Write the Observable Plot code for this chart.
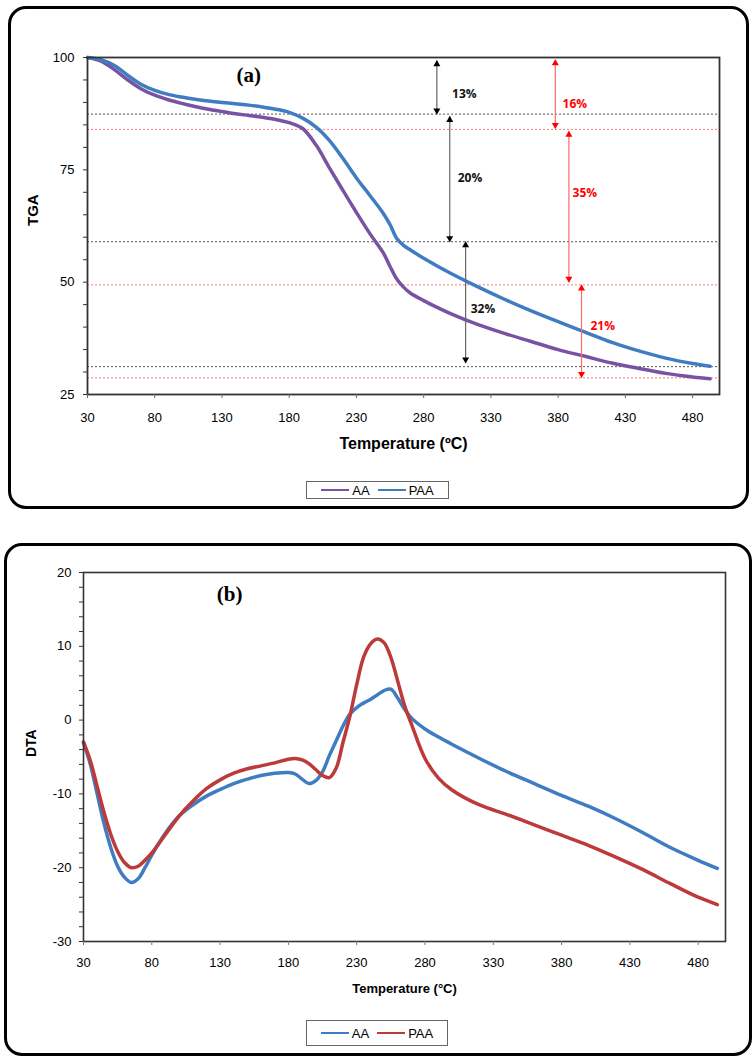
<!DOCTYPE html>
<html>
<head>
<meta charset="utf-8">
<script src="https://cdn.jsdelivr.net/npm/d3@7"></script>
<script src="https://cdn.jsdelivr.net/npm/@observablehq/plot@0.6"></script>
<style>
  html, body { margin: 0; padding: 0; background: #fff; }
  body { width: 756px; height: 1060px; position: relative; overflow: hidden; }
  .panel { position: absolute; box-sizing: border-box; border: 3.5px solid #000; border-radius: 18px; }
  .chart { position: absolute; left: 0; }
  .legend { position: absolute; box-sizing: border-box; border: 1px solid #666; background: #fff;
            display: flex; align-items: center; justify-content: center; gap: 8px; color: #000; }
  .legend .item { display: flex; align-items: center; gap: 3px; }
  .legend .sw { display: inline-block; width: 28px; height: 0; border-top: 2px solid; }
</style>
</head>
<body>
<div class="panel" style="left:8px; top:6px; width:741px; height:503px;"></div>
<div class="panel" style="left:4px; top:543px; width:748px; height:513px;"></div>
<div id="chartA" class="chart" style="top:0px;"></div>
<div id="chartB" class="chart" style="top:520px;"></div>
<div id="legendA" class="legend" style="left:306px; top:481px; width:143px; height:18px; font: 13px 'Liberation Sans Narrow','Liberation Sans',Arial,sans-serif;"></div>
<div id="legendB" class="legend" style="left:306px; top:1020px; width:142px; height:26px; font: 13px 'Liberation Sans',Arial,sans-serif;"></div>
<script>
// ---------- (a) TGA data ----------
const tgaT   = [30, 40, 50, 60, 70, 80, 90, 100, 110, 120, 130, 140, 150, 160, 170, 180, 190, 200, 210, 220, 230, 240, 250, 255, 260, 265, 270, 280, 290, 300, 320, 340, 360, 380, 400, 420, 440, 460, 480, 493];
const tgaAA  = [100, 99.2, 97.3, 95.0, 93.0, 91.6, 90.6, 89.8, 89.1, 88.5, 88.0, 87.5, 87.1, 86.7, 86.2, 85.5, 84.2, 80.5, 75.4, 70.4, 65.5, 60.8, 56.5, 53.5, 50.7, 48.9, 47.6, 45.9, 44.4, 43.0, 40.6, 38.6, 36.8, 35.0, 33.5, 32.0, 30.8, 29.7, 28.9, 28.5];
const tgaPAA = [100, 99.5, 98.2, 96.0, 94.0, 92.7, 91.8, 91.2, 90.7, 90.3, 90.0, 89.7, 89.4, 89.0, 88.5, 87.8, 86.5, 84.5, 81.5, 77.5, 73.2, 69.3, 65.3, 62.8, 59.7, 58.2, 57.2, 55.3, 53.6, 52.0, 49.0, 46.2, 43.6, 41.2, 38.9, 36.6, 34.7, 33.1, 31.9, 31.3];
const tgaXTicks = [30, 80, 130, 180, 230, 280, 330, 380, 430, 480];
const tgaYTicks = [25, 50, 75, 100];
const tgaYMinor = [30, 35, 40, 45, 55, 60, 65, 70, 80, 85, 90, 95];

// dotted reference levels
const levelsBlack = [87.4, 59.0, 31.2];
const levelsRed   = [84.0, 49.4, 28.7];

// double-headed arrows (x = temperature, top / bottom in TGA %)
const arrowX      = [289.8, 299.4, 311.2, 377.9, 388.0, 397.4];
const arrowTop    = [99.3, 86.9, 59.0, 99.5, 83.6, 49.4];
const arrowBottom = [87.4, 59.0, 32.0, 84.2, 50.0, 28.8];
const arrowColor  = ["#000", "#000", "#000", "#ff0000", "#ff0000", "#ff0000"];
const arrowLine   = ["#666", "#666", "#666", "#ff6b6b", "#ff6b6b", "#ff6b6b"];
const pctLabel    = ["13%", "20%", "32%", "16%", "35%", "21%"];
const pctX        = [301.1, 305.3, 315.0, 383.3, 390.7, 404.0];
const pctY        = [91.9, 73.2, 43.9, 89.6, 69.8, 40.3];

// ---------- (b) DTA data ----------
const dtaT   = [30, 35, 40, 45, 50, 55, 60, 65, 70, 75, 80, 90, 100, 110, 120, 130, 140, 150, 160, 170, 180, 185, 190, 195, 200, 205, 210, 215, 220, 225, 230, 235, 240, 245, 250, 255, 260, 265, 270, 280, 290, 300, 320, 340, 360, 380, 400, 420, 440, 460, 480, 494];
const dtaAA  = [-3, -6, -10, -14, -17.3, -19.8, -21.3, -22, -21.5, -20, -18.3, -15.3, -13, -11.5, -10.3, -9.4, -8.6, -8.0, -7.5, -7.2, -7.1, -7.3, -8.0, -8.6, -8.2, -7.0, -4.8, -2.8, -0.8, 0.8, 1.7, 2.3, 2.8, 3.4, 4.0, 4.2, 3.0, 1.5, 0.3, -1.2, -2.3, -3.3, -5.2, -7.0, -8.6, -10.2, -11.7, -13.4, -15.3, -17.3, -19.0, -20.1];
const dtaPAA = [-3, -5.5, -9, -12.5, -15.5, -17.8, -19.3, -20, -19.8, -19, -18, -15.5, -13, -11, -9.3, -8.1, -7.2, -6.6, -6.2, -5.8, -5.3, -5.2, -5.4, -5.9, -6.7, -7.5, -7.8, -6.5, -3.0, 0.5, 4.8, 8.5, 10.3, 11.0, 10.5, 8.5, 5.3, 2.0, -0.5, -5.2, -7.9, -9.5, -11.5, -12.8, -14.2, -15.6, -17.0, -18.6, -20.3, -22.2, -24.0, -25.0];
const dtaXTicks = [30, 80, 130, 180, 230, 280, 330, 380, 430, 480];
const dtaYTicks = [-30, -20, -10, 0, 10, 20];
const dtaYMinor = [-28, -26, -24, -22, -18, -16, -14, -12, -8, -6, -4, -2, 2, 4, 6, 8, 12, 14, 16, 18];

// panel tags
const tagA = {t: 150, v: 96.0, text: "(a)"};
const tagB = {t: 137, v: 17.0, text: "(b)"};

// colours
const cPurple = "#7953a3";
const cBlue   = "#3f7cc2";
const cRed    = "#bd3a3a";

const narrow = "'Liberation Sans Narrow','Liberation Sans',Arial,sans-serif";
const sans   = "'Liberation Sans',Arial,sans-serif";
const calib  = "'Open Sans','Liberation Sans',sans-serif";
const plain  = d => String(d);

// ---------- build tables ----------
const rowsA = [
  ...tgaT.map((t, i) => ({t, v: tgaAA[i], s: "AA"})),
  ...tgaT.map((t, i) => ({t, v: tgaPAA[i], s: "PAA"}))
];
const arrows = arrowX.map((x, i) => ({x, top: arrowTop[i], bottom: arrowBottom[i], color: arrowColor[i], line: arrowLine[i]}));
const pcts = pctLabel.map((text, i) => ({text, x: pctX[i], y: pctY[i], color: arrowColor[i] === "#000" ? "#111" : "#ff0000"}));

const rowsB = [
  ...dtaT.map((t, i) => ({t, v: dtaAA[i], s: "AA"})),
  ...dtaT.map((t, i) => ({t, v: dtaPAA[i], s: "PAA"}))
];

const chartA = Plot.plot({
  width: 756, height: 520,
  marginLeft: 87, marginRight: 37, marginTop: 57, marginBottom: 126,
  x: {domain: [30, 500], label: null},
  y: {domain: [25, 100], label: null},
  color: {domain: ["AA", "PAA"], range: [cPurple, cBlue]},
  style: {fontFamily: narrow, fontSize: "13px", background: "transparent", overflow: "visible", color: "#000"},
  marks: [
    Plot.ruleY(levelsBlack, {stroke: "#555", strokeWidth: 1, strokeDasharray: "2,2"}),
    Plot.ruleY(levelsRed, {stroke: "#ff7a7a", strokeWidth: 1, strokeDasharray: "2,2"}),
    Plot.line(rowsA, {x: "t", y: "v", stroke: "s", strokeWidth: 3.5, curve: "catmull-rom"}),
    Plot.link(arrows, {x1: "x", x2: "x", y1: "top", y2: "bottom", stroke: "line", strokeWidth: 1.2}),
    Plot.dot(arrows, {x: "x", y: "top", symbol: "triangle", r: 2.6, fill: "color", stroke: "none", dy: 3.5}),
    Plot.dot(arrows, {x: "x", y: "bottom", symbol: "triangle", r: 2.6, fill: "color", stroke: "none", rotate: 180, dy: -3.5}),
    Plot.text(pcts, {x: "x", y: "y", text: "text", fill: "color", textAnchor: "start", fontWeight: "bold", fontSize: 12, fontFamily: calib}),
    Plot.text([tagA], {x: "t", y: "v", text: "text", fontFamily: "'Liberation Serif',serif", fontWeight: "bold", fontSize: 21, fill: "#000"}),
    Plot.frame({stroke: "#333", strokeWidth: 1.8}),
    Plot.axisX({ticks: tgaXTicks, tickSize: 4, tickPadding: 14, label: null, stroke: "#666", fontSize: 13, tickFormat: plain}),
    Plot.axisY({ticks: tgaYTicks, tickSize: 4, tickPadding: 9, label: null, stroke: "#333", fontSize: 13, tickFormat: plain}),
    Plot.axisY({ticks: tgaYMinor, tickSize: 4, tickFormat: () => "", label: null, stroke: "#333"}),
    Plot.text(["Temperature (\u00baC)"], {frameAnchor: "bottom", dy: 54, text: d => d, fontWeight: "bold", fontSize: 16, fontFamily: narrow, fill: "#000"}),
    Plot.text(["TGA"], {frameAnchor: "left", dx: -54, rotate: -90, text: d => d, fontWeight: "bold", fontSize: 15, fontFamily: sans, fill: "#000"})
  ]
});
document.getElementById("chartA").appendChild(chartA);

const chartB = Plot.plot({
  width: 756, height: 540,
  marginLeft: 83, marginRight: 31, marginTop: 52, marginBottom: 119,
  x: {domain: [30, 500], label: null},
  y: {domain: [-30, 20], label: null},
  color: {domain: ["AA", "PAA"], range: [cBlue, cRed]},
  style: {fontFamily: sans, fontSize: "12px", background: "transparent", overflow: "visible", color: "#000"},
  marks: [
    Plot.line(rowsB, {x: "t", y: "v", stroke: "s", strokeWidth: 3.5, curve: "catmull-rom"}),
    Plot.text([tagB], {x: "t", y: "v", text: "text", fontFamily: "'Liberation Serif',serif", fontWeight: "bold", fontSize: 21, fill: "#000"}),
    Plot.frame({stroke: "#333", strokeWidth: 1.6}),
    Plot.axisX({ticks: dtaXTicks, tickSize: 4, tickPadding: 12, label: null, stroke: "#777", fontSize: 13, tickFormat: plain}),
    Plot.axisY({ticks: dtaYTicks, tickSize: 4, tickPadding: 8, label: null, stroke: "#333", fontSize: 13, tickFormat: plain}),
    Plot.axisY({ticks: dtaYMinor, tickSize: 4, tickFormat: () => "", label: null, stroke: "#333"}),
    Plot.text(["Temperature (\u00b0C)"], {frameAnchor: "bottom", dy: 51, text: d => d, fontWeight: "bold", fontSize: 13, fontFamily: sans, fill: "#000"}),
    Plot.text(["DTA"], {frameAnchor: "left", dx: -52, rotate: -90, text: d => d, fontWeight: "bold", fontSize: 14, fontFamily: sans, fill: "#000"})
  ]
});
document.getElementById("chartB").appendChild(chartB);

// legends
function legend(id, names, colors) {
  const el = document.getElementById(id);
  names.forEach((n, i) => {
    const it = document.createElement("span");
    it.className = "item";
    const sw = document.createElement("span");
    sw.className = "sw";
    sw.style.borderTopColor = colors[i];
    const tx = document.createElement("span");
    tx.textContent = n;
    it.appendChild(sw); it.appendChild(tx);
    el.appendChild(it);
  });
}
legend("legendA", ["AA", "PAA"], [cPurple, cBlue]);
legend("legendB", ["AA", "PAA"], [cBlue, cRed]);
</script>
</body>
</html>
